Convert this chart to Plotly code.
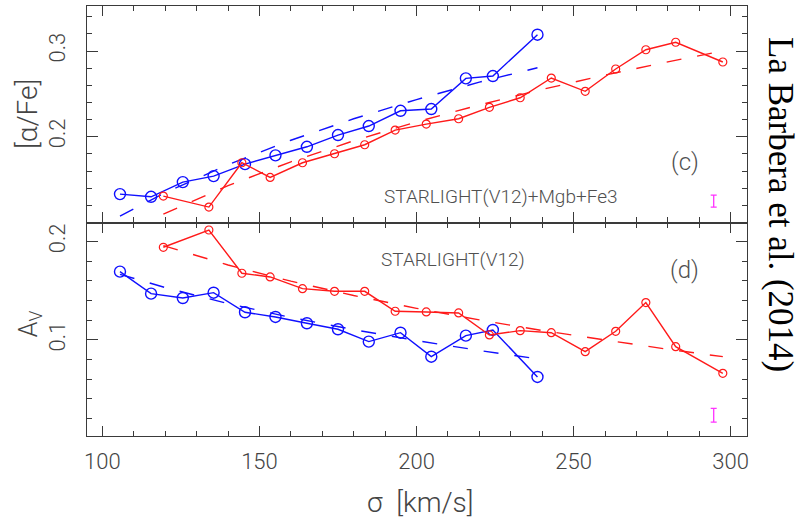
import plotly.graph_objects as go
from plotly.subplots import make_subplots

# ---------------- data ----------------
sigma_blue = [105.6, 115.5, 125.6, 135.4, 145.4, 155.1, 165.1, 175.0, 184.8, 194.9, 204.7, 215.7, 224.3, 238.5]
afe_blue = [0.1331, 0.1300, 0.1471, 0.1541, 0.1681, 0.1783, 0.1883, 0.2020, 0.2125, 0.2303, 0.2323, 0.2681, 0.2708, 0.3190]
av_blue = [0.1695, 0.1471, 0.1427, 0.1481, 0.1282, 0.1234, 0.1170, 0.1109, 0.0983, 0.1074, 0.0830, 0.1044, 0.1102, 0.0624]

sigma_red = [119.4, 133.9, 144.4, 153.4, 163.7, 173.9, 183.5, 193.2, 203.1, 213.4, 223.2, 233.0, 242.9, 253.7, 263.4, 273.0, 282.5, 297.5]
afe_red = [0.1308, 0.1180, 0.1697, 0.1526, 0.1697, 0.1802, 0.1907, 0.2078, 0.2148, 0.2210, 0.2343, 0.2455, 0.2685, 0.2530, 0.2790, 0.3015, 0.3102, 0.2872]
av_red = [0.1943, 0.2119, 0.1679, 0.1641, 0.1522, 0.1495, 0.1495, 0.1292, 0.1285, 0.1275, 0.1051, 0.1095, 0.1074, 0.0881, 0.1088, 0.1380, 0.0932, 0.0661]

# dashed fit lines
fit_sigma_blue = [105.6, 120, 140, 160, 180, 200, 220, 238.5]
fit_afe_blue = [0.1075, 0.1347, 0.1675, 0.1959, 0.2210, 0.2434, 0.2637, 0.2805]
fit_av_blue = [0.1668, 0.1533, 0.1370, 0.1229, 0.1105, 0.0994, 0.0893, 0.0808]

fit_sigma_red = [119.4, 140, 160, 180, 200, 220, 240, 260, 280, 297.5]
fit_afe_red = [0.1098, 0.1429, 0.1708, 0.1953, 0.2173, 0.2371, 0.2552, 0.2719, 0.2874, 0.3000]
fit_av_red = [0.1960, 0.1763, 0.1598, 0.1452, 0.1322, 0.1204, 0.1096, 0.0997, 0.0905, 0.0830]

# typical error bars (magenta)
err_sigma = [294.6]
err_afe = [0.125]
err_afe_size = [0.007]
err_av = [0.0234]
err_av_size = [0.007]

x_ticks = [100, 150, 200, 250, 300]
x_ticktext = ["100", "150", "200", "250", "300"]
afe_ticks = [0.2, 0.3]
afe_ticktext = ["0.2", "0.3"]
av_ticks = [0.1, 0.2]
av_ticktext = ["0.1", "0.2"]

BLUE = "#1010ff"
RED = "#ff1a1a"
MAG = "#ff33ff"
AX = "#3a3a3a"
TXT = "#505050"
FONT = "Roboto"

fig = make_subplots(rows=2, cols=1, shared_xaxes=True, vertical_spacing=0)

dash = "15px,16px"

def add_panel(row, yb, yr, fyb, fyr, ey, eys):
    fig.add_trace(go.Scatter(x=fit_sigma_blue, y=fyb, mode="lines",
                             line=dict(color=BLUE, width=1.4, dash=dash)), row=row, col=1)
    fig.add_trace(go.Scatter(x=fit_sigma_red, y=fyr, mode="lines",
                             line=dict(color=RED, width=1.4, dash=dash)), row=row, col=1)
    fig.add_trace(go.Scatter(x=sigma_blue, y=yb, mode="lines+markers",
                             line=dict(color=BLUE, width=1.4),
                             marker=dict(symbol="circle-open", size=11, color=BLUE,
                                         line=dict(width=1.4, color=BLUE))), row=row, col=1)
    fig.add_trace(go.Scatter(x=sigma_red, y=yr, mode="lines+markers",
                             line=dict(color=RED, width=1.4),
                             marker=dict(symbol="circle-open", size=8, color=RED,
                                         line=dict(width=1.2, color=RED))), row=row, col=1)
    fig.add_trace(go.Scatter(x=err_sigma, y=ey, mode="markers",
                             marker=dict(size=1, color=MAG, opacity=0),
                             error_y=dict(type="data", array=eys, color=MAG,
                                          thickness=1.3, width=3)), row=row, col=1)

add_panel(1, afe_blue, afe_red, fit_afe_blue, fit_afe_red, err_afe, err_afe_size)
add_panel(2, av_blue, av_red, fit_av_blue, fit_av_red, err_av, err_av_size)

tickfont = dict(family=FONT, size=22, color="#444444", weight=300)

xcommon = dict(range=[95.1, 305.2], showline=True, linecolor=AX, linewidth=1.3,
               mirror="allticks", ticks="inside", ticklen=10, tickwidth=1.2, tickcolor=AX,
               tickvals=x_ticks, ticktext=x_ticktext,
               minor=dict(dtick=10, tick0=100, ticks="inside", ticklen=5, tickwidth=1.1, tickcolor=AX),
               showgrid=False, zeroline=False, tickfont=tickfont)

fig.update_xaxes(**xcommon)
fig.update_xaxes(showticklabels=False, row=1, col=1)
fig.update_xaxes(showticklabels=True, ticklabelstandoff=5, row=2, col=1)

ycommon = dict(showline=True, linecolor=AX, linewidth=1.3, mirror="allticks",
               ticks="inside", ticklen=11, tickwidth=1.2, tickcolor=AX, tickangle=-90,
               showgrid=False, zeroline=False, tickfont=tickfont, ticklabelstandoff=12)

fig.update_yaxes(**ycommon)
fig.update_yaxes(range=[0.1, 0.3525], tickvals=afe_ticks, ticktext=afe_ticktext,
                 minor=dict(dtick=0.02, tick0=0.1, ticks="inside", ticklen=5, tickwidth=1.1, tickcolor=AX),
                 domain=[0.4965, 1.0], row=1, col=1)
fig.update_yaxes(range=[0.0023, 0.2195], tickvals=av_ticks, ticktext=av_ticktext,
                 minor=dict(dtick=0.02, tick0=0.0, ticks="inside", ticklen=5, tickwidth=1.1, tickcolor=AX),
                 domain=[0.0, 0.4965], row=2, col=1)

annotations = [
    dict(text="[α/Fe]", xref="paper", yref="paper", x=0, y=0.7488, xshift=-60, textangle=-90,
         showarrow=False, font=dict(family=FONT, size=28, color="#444444", weight=300),
         xanchor="center", yanchor="middle"),
    dict(text="A<sub>V</sub>", xref="paper", yref="paper", x=0, y=0.260, xshift=-57, textangle=-90,
         showarrow=False, font=dict(family=FONT, size=25, color="#444444", weight=300),
         xanchor="center", yanchor="middle"),
    dict(text="σ  [km/s]", xref="paper", yref="paper", x=0.506, y=-0.1535, showarrow=False,
         font=dict(family=FONT, size=28, color="#444444", weight=300), xanchor="center", yanchor="middle"),
    dict(text="La Barbera et al. (2014)", xref="paper", yref="paper", x=1, y=0.5395, xshift=34,
         textangle=90, showarrow=False, font=dict(family="Liberation Serif", size=35, color="black"),
         xanchor="center", yanchor="middle"),
    dict(text="STARLIGHT(V12)+Mgb+Fe3", xref="x", yref="y", x=226.8, y=0.1308, showarrow=False,
         font=dict(family=FONT, size=19, color=TXT, weight=300), xanchor="center", yanchor="middle"),
    dict(text="(c)", xref="x", yref="y", x=285.4, y=0.1708, showarrow=False,
         font=dict(family=FONT, size=24, color=TXT, weight=300), xanchor="center", yanchor="middle"),
    dict(text="STARLIGHT(V12)", xref="x2", yref="y2", x=211.5, y=0.1814, showarrow=False,
         font=dict(family=FONT, size=19, color=TXT, weight=300), xanchor="center", yanchor="middle"),
    dict(text="(d)", xref="x2", yref="y2", x=285.4, y=0.1712, showarrow=False,
         font=dict(family=FONT, size=24, color=TXT, weight=300), xanchor="center", yanchor="middle"),
]

fig.update_layout(width=806, height=524, margin=dict(l=87, r=59, t=6, b=88),
                  paper_bgcolor="white", plot_bgcolor="white", showlegend=False,
                  annotations=annotations)

fig.write_html("out.html")
